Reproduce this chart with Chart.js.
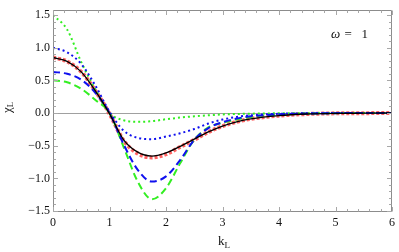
<!DOCTYPE html>
<html><head><meta charset="utf-8">
<script src="https://cdn.jsdelivr.net/npm/chart.js@4"></script>
<style>html,body{margin:0;padding:0;background:#fff}canvas{display:block}</style>
</head><body>
<canvas id="c" width="399" height="252"></canvas>
<script>
const kValues = [0, 0.25, 0.5, 0.75, 1.0, 1.25, 1.5, 1.75, 2.0, 2.25, 2.5, 2.75, 3.0, 3.25, 3.5, 4.0, 4.5, 5.0, 5.5, 6.0];
const blackSolid   = [0.85, 0.79, 0.63, 0.34, -0.01, -0.41, -0.60, -0.66, -0.61, -0.51, -0.40, -0.29, -0.20, -0.135, -0.09, -0.04, -0.015, -0.005, -0.002, 0];
const redDotted    = [0.85, 0.79, 0.63, 0.34, -0.01, -0.42, -0.62, -0.68, -0.63, -0.52, -0.41, -0.29, -0.20, -0.135, -0.09, -0.04, -0.015, -0.005, -0.002, 0];
const blueDotted   = [1.00, 0.93, 0.75, 0.42, 0.02, -0.27, -0.38, -0.40, -0.36, -0.31, -0.245, -0.16, -0.10, -0.06, -0.035, -0.012, -0.004, -0.001, 0, 0];
const blueDashed   = [0.63, 0.60, 0.51, 0.31, 0.0, -0.48, -0.87, -1.05, -0.97, -0.72, -0.41, -0.23, -0.14, -0.085, -0.05, -0.02, -0.007, -0.002, 0, 0];
const greenDotted  = [1.50, 1.28, 0.78, 0.36, 0.0, -0.11, -0.135, -0.125, -0.095, -0.07, -0.05, -0.035, -0.022, -0.015, -0.01, -0.004, -0.002, 0, 0, 0];
const greenDashed  = [0.50, 0.47, 0.37, 0.20, 0.0, -0.52, -1.05, -1.32, -1.15, -0.77, -0.41, -0.22, -0.15, -0.10, -0.06, -0.025, -0.008, -0.002, 0, 0];
const xTicks = [0, 1, 2, 3, 4, 5, 6];
const yTicks = [-1.5, -1.0, -0.5, 0.0, 0.5, 1.0, 1.5];
const yLabel = ['χ', 'L'];
const xLabel = ['k', 'L'];
const annotation = ['ω', ' =   1'];

const pts = arr => arr.map((v, i) => ({x: kValues[i], y: v}));
const serif = '"Liberation Serif", "DejaVu Serif", serif';

const framePlugin = {
  id: 'frame',
  beforeDatasetsDraw(chart) {
    const {ctx, chartArea: a, scales: {y}} = chart;
    ctx.save();
    ctx.strokeStyle = '#a0a0a0';
    ctx.lineWidth = 1;
    const y0 = Math.round(y.getPixelForValue(0)) + 0.5;
    ctx.beginPath(); ctx.moveTo(a.left, y0); ctx.lineTo(a.right, y0); ctx.stroke();
    ctx.restore();
  },
  afterDraw(chart) {
    const {ctx, chartArea: a, scales: {x, y}} = chart;
    ctx.save();
    ctx.strokeStyle = '#8c8c8c';
    ctx.lineWidth = 1;
    const L = Math.round(a.left) + 0.5, R = Math.round(a.right) - 0.5;
    const T = Math.round(a.top) + 0.5, B = Math.round(a.bottom) - 0.5;
    ctx.beginPath();
    ctx.rect(L, T, R - L, B - T);
    ctx.stroke();
    ctx.strokeStyle = '#a8a8a8';
    ctx.beginPath();
    for (let i = 0; i <= 30; i++) {
      const v = i / 5;
      const major = i % 5 === 0;
      const len = major ? 4.5 : 2.5;
      const px = Math.round(x.getPixelForValue(v)) + 0.5;
      ctx.moveTo(px, B); ctx.lineTo(px, B - len);
      ctx.moveTo(px, T); ctx.lineTo(px, T + len);
    }
    for (let i = -15; i <= 15; i++) {
      const v = i / 10;
      const major = i % 5 === 0;
      const len = major ? 4.5 : 2.5;
      const py = Math.round(y.getPixelForValue(v)) + 0.5;
      ctx.moveTo(L, py); ctx.lineTo(L + len, py);
      ctx.moveTo(R, py); ctx.lineTo(R - len, py);
    }
    ctx.stroke();

    ctx.fillStyle = '#111';
    ctx.save();
    ctx.translate(8, 106);
    ctx.rotate(-Math.PI / 2);
    ctx.font = '13px ' + serif;
    ctx.textBaseline = 'middle';
    ctx.textAlign = 'left';
    const w1 = ctx.measureText(yLabel[0]).width;
    ctx.fillText(yLabel[0], -7, 0);
    ctx.font = '9px ' + serif;
    ctx.fillText(yLabel[1], -7 + w1, 3);
    ctx.restore();

    ctx.font = '13px ' + serif;
    ctx.textBaseline = 'middle';
    ctx.textAlign = 'left';
    const wk = ctx.measureText(xLabel[0]).width;
    ctx.fillText(xLabel[0], 218, 242);
    ctx.font = '9px ' + serif;
    ctx.fillText(xLabel[1], 218 + wk, 246);

    ctx.font = 'italic 13px ' + serif;
    ctx.fillText(annotation[0], 331, 35);
    const wo = ctx.measureText(annotation[0]).width;
    ctx.font = '13px ' + serif;
    ctx.fillText(annotation[1], 331 + wo + 1, 35);
    ctx.restore();
  }
};

const mk = (label, data, color, width, dash, order) => ({
  label, data: pts(data), borderColor: color, borderWidth: width, borderDash: dash,
  pointRadius: 0, fill: false, cubicInterpolationMode: 'monotone', order,
  borderCapStyle: 'butt'
});

new Chart(document.getElementById('c'), {
  type: 'line',
  data: {
    datasets: [
      mk('black', blackSolid, '#000000', 1.4, [], 1),
      mk('blueDotted', blueDotted, '#1010ee', 2, [2, 3], 2),
      mk('blueDashed', blueDashed, '#1010ee', 2, [7, 4], 3),
      mk('greenDotted', greenDotted, '#33ee22', 2, [2, 3], 4),
      mk('greenDashed', greenDashed, '#33ee22', 2, [7, 4], 5),
      mk('red', redDotted, 'rgba(255,70,70,0.85)', 4, [3, 2], 6)
    ]
  },
  options: {
    responsive: false,
    devicePixelRatio: 1,
    animation: false,
    layout: {padding: {left: 0, right: 4, top: 2, bottom: 0}},
    plugins: {legend: {display: false}, tooltip: {enabled: false}},
    scales: {
      x: {
        type: 'linear', min: 0, max: 6,
        afterBuildTicks: s => { s.ticks = xTicks.map(v => ({value: v})); },
        afterFit: s => { s.height = 40; },
        grid: {display: false, drawTicks: false},
        border: {display: false},
        ticks: {padding: 4, color: '#111', font: {family: serif, size: 12},
          maxRotation: 0, callback: v => String(v)}
      },
      y: {
        type: 'linear', min: -1.515, max: 1.574,
        afterBuildTicks: s => { s.ticks = yTicks.map(v => ({value: v})); },
        afterFit: s => { s.width = 53; },
        grid: {display: false, drawTicks: false},
        border: {display: false},
        ticks: {padding: 3, color: '#111', font: {family: serif, size: 12},
          callback: v => (v < 0 ? '\u2212' : '') + Math.abs(v).toFixed(1)}
      }
    }
  },
  plugins: [framePlugin]
});
</script>
</body></html>
